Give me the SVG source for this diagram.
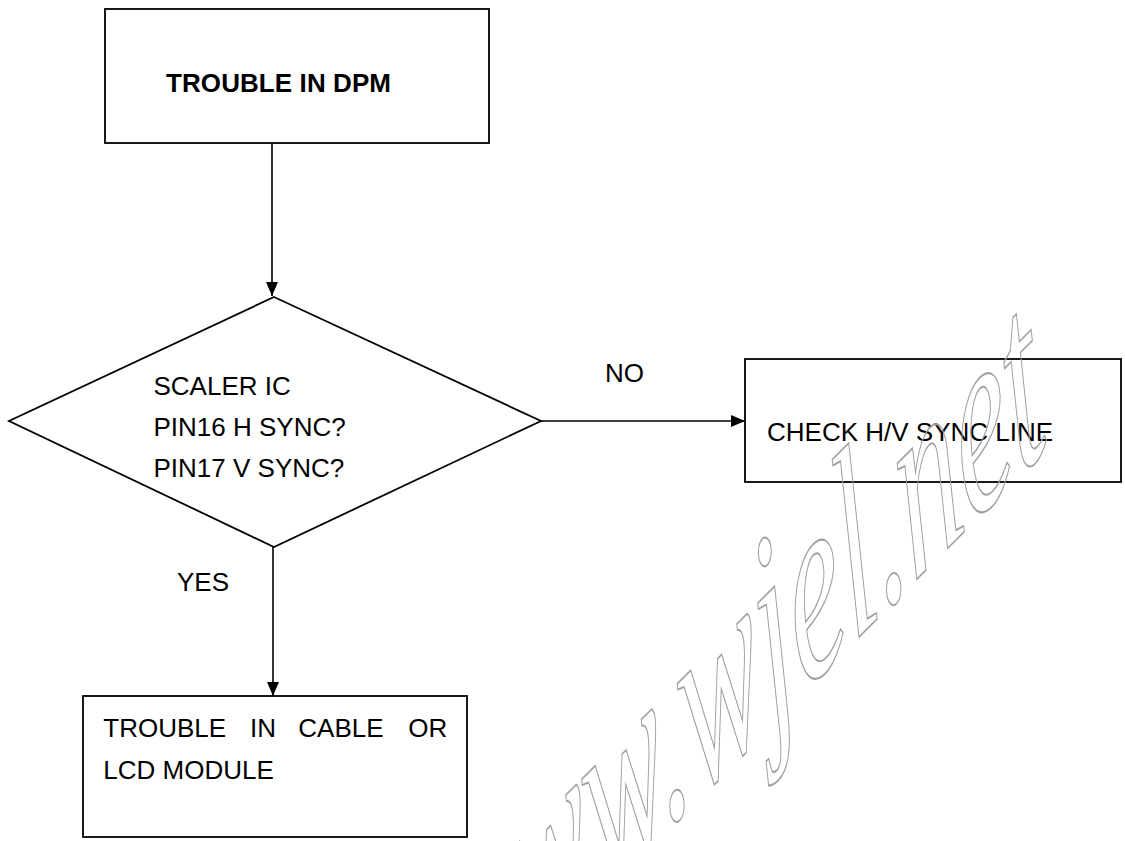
<svg xmlns="http://www.w3.org/2000/svg" width="1125" height="841" viewBox="0 0 1125 841">
  <style>
    .shape { fill: #ffffff; stroke: #000000; stroke-width: 1.8; }
    .conn { fill: none; stroke: #000000; stroke-width: 1.6; }
    .lbl { font-family: "Liberation Sans", Arial, sans-serif; font-size: 26px; fill: #000000; }
    .bold { font-weight: bold; }
    .wm { font-family: "Liberation Serif", "DejaVu Serif", serif; font-style: italic; font-size: 160px; fill: none; stroke: #a0a0a0; stroke-width: 1.2; }
  </style>
  <defs>
    <marker id="arrow" markerUnits="userSpaceOnUse" markerWidth="14" markerHeight="12" refX="14" refY="6" orient="auto">
      <path d="M0,0 L14,6 L0,12 Z" fill="#000000"/>
    </marker>
  </defs>
  <rect width="1125" height="841" fill="#ffffff"/>

  <g id="node-trouble-dpm">
    <rect class="shape" x="105" y="9" width="384" height="134"/>
    <text class="lbl bold" x="166" y="92" textLength="225" lengthAdjust="spacing">TROUBLE IN DPM</text>
  </g>

  <g id="node-scaler-decision">
    <polygon class="shape" points="274,297 541,421 274,547 9,421"/>
    <text class="lbl" x="153.5" y="395">SCALER IC</text>
    <text class="lbl" x="153.5" y="436">PIN16 H SYNC?</text>
    <text class="lbl" x="153.5" y="477">PIN17 V SYNC?</text>
  </g>

  <g id="node-check-sync">
    <rect class="shape" x="745" y="359" width="376" height="123"/>
    <text class="lbl" x="767" y="441">CHECK H/V SYNC LINE</text>
  </g>

  <g id="node-cable-lcd">
    <rect class="shape" x="83" y="696" width="384" height="141"/>
    <text class="lbl" y="737"><tspan x="103.3">TROUBLE</tspan><tspan x="250">IN</tspan><tspan x="298.3">CABLE</tspan><tspan x="408.3">OR</tspan></text>
    <text class="lbl" x="103.3" y="779">LCD MODULE</text>
  </g>

  <g id="connectors">
    <line class="conn" x1="272" y1="144" x2="272" y2="296" marker-end="url(#arrow)"/>
    <line class="conn" x1="541" y1="421" x2="745" y2="421" marker-end="url(#arrow)"/>
    <line class="conn" x1="273" y1="547" x2="273" y2="696" marker-end="url(#arrow)"/>
    <text class="lbl" x="605" y="382">NO</text>
    <text class="lbl" x="177" y="591">YES</text>
  </g>

  <g id="watermark">
    <text class="wm" x="-627" y="0" transform="translate(893,603) rotate(-45) skewX(-34) scale(1,1.3)">www.wjel.net</text>
  </g>
</svg>
